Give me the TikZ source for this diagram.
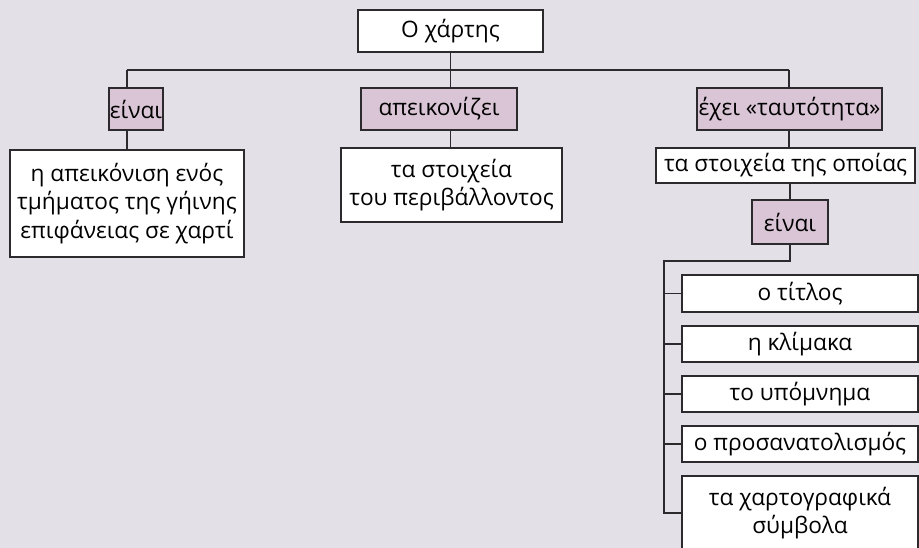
\documentclass[tikz,border=0pt]{standalone}
\usepackage{fontspec}
\setmainfont{Open Sans}
\usepackage{tikz}
\definecolor{paper}{RGB}{228,224,231}
\definecolor{mauve}{RGB}{217,197,213}
\definecolor{ink}{RGB}{45,42,45}

\begin{document}
\begin{tikzpicture}[x=0.75pt,y=0.75pt,yscale=-1,xscale=1,
  box/.style={draw=ink,line width=0.9pt,fill=white,inner sep=0pt,align=center,
    font=\fontsize{17}{21.4}\selectfont},
  tag/.style={box,fill=mauve,minimum height=31.5pt},
  link/.style={draw=ink,line width=0.9pt}]
%set diagram size: 919 x 548
\fill[paper] (0,0) rectangle (919,548);
\useasboundingbox (0,0) rectangle (919,548);
% Top box
\node[box,minimum width=138.75pt,minimum height=31.5pt] (xartis) at (450.5,31) {Ο χάρτης};
% Label boxes
\node[tag,minimum width=40.5pt] (einai) at (136,109) {είναι};
\node[tag,minimum width=117pt] (apeik) at (439,109) {απεικονίζει};
\node[tag,minimum width=138.75pt] (exei) at (789.5,109) {έχει «ταυτότητα»};
% Text boxes
\node[box,minimum width=175.5pt,minimum height=80.25pt] (apeikonisi) at (127,203.5) {η απεικόνιση ενός\\τμήματος της γήινης\\επιφάνειας σε χαρτί};
\node[box,minimum width=165.75pt,minimum height=55.5pt] (stoixeia) at (451.5,185) {τα στοιχεία\\του περιβάλλοντος};
\node[box,minimum width=194.25pt,minimum height=26.25pt] (opoias) at (785.5,165.5) {τα στοιχεία της οποίας};
\node[tag,minimum width=57pt,minimum height=33pt] (einaib) at (790,222) {είναι};
% List of the map's elements
\node[box,minimum width=177pt,minimum height=27.75pt] (titlos) at (800,293.5) {ο τίτλος};
\node[box,minimum width=177pt,minimum height=27pt] (klimaka) at (800,344) {η κλίμακα};
\node[box,minimum width=177pt,minimum height=27pt] (ypomnima) at (800,394) {το υπόμνημα};
\node[box,minimum width=177pt,minimum height=27pt] (prosanat) at (800,444) {ο προσανατολισμός};
\node[box,minimum width=177pt,minimum height=55.5pt] (symvola) at (800,513) {τα χαρτογραφικά\\σύμβολα};
% Connectors
\coordinate (hl) at (127,70);
\coordinate (hr) at (789,70);
\coordinate (tr) at (664,261);
\draw[link] (xartis.south) -- (xartis.south |- apeik.north);
\draw[link] (hl) -- (hr);
\draw[link] (hl) -- (hl |- einai.north);
\draw[link] (hr) -- (hr |- exei.north);
\draw[link] (hl |- einai.south) -- (hl |- apeikonisi.north);
\draw[link] (xartis.south |- apeik.south) -- (xartis.south |- stoixeia.north);
\draw[link] (hr |- exei.south) -- (hr |- opoias.north);
\draw[link] (einaib.north |- opoias.south) -- (einaib.north);
\draw[link] (einaib.south) -- (einaib.south |- tr) -- (tr) -- (tr |- symvola.west) -- (symvola.west);
\draw[link] (tr |- titlos.west) -- (titlos.west);
\draw[link] (tr |- klimaka.west) -- (klimaka.west);
\draw[link] (tr |- ypomnima.west) -- (ypomnima.west);
\draw[link] (tr |- prosanat.west) -- (prosanat.west);
\end{tikzpicture}
\end{document}
